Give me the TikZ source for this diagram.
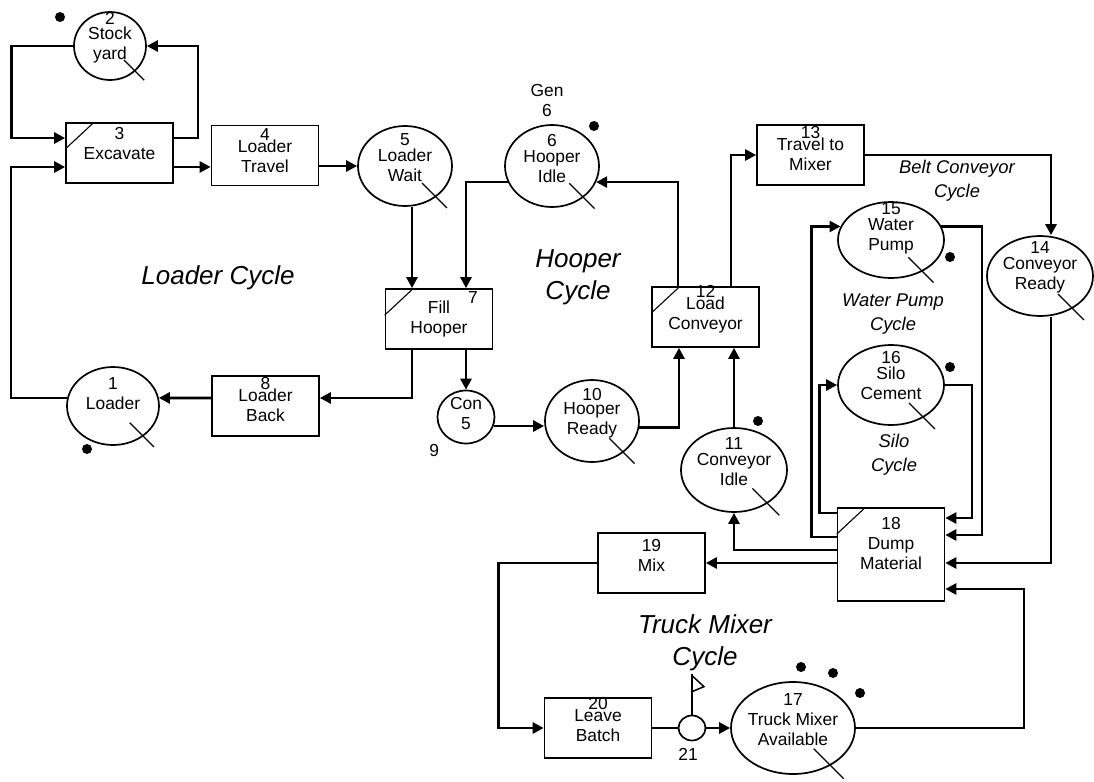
\documentclass[tikz,border=0pt]{standalone}
\usepackage{fontspec}
\setmainfont{Liberation Sans}
\usetikzlibrary{shapes.geometric,arrows.meta,calc}

\begin{document}
\begin{tikzpicture}[x=0.5pt,y=-0.5pt,
  every node/.style={font=\fontsize{8.7}{10}\selectfont, align=center},
  act/.style={draw, line width=0.85pt, rectangle, minimum width=53.5pt, minimum height=30pt},
  que/.style={draw, line width=0.85pt, ellipse, inner sep=0pt},
  flow/.style={line width=1.35pt, -{Triangle[length=5.5pt,width=5.5pt]}},
  link/.style={line width=1.35pt},
  cyc/.style={font=\fontsize{13}{16}\selectfont\itshape},
  subcyc/.style={font=\fontsize{9.2}{12}\selectfont\itshape},
  tick/.style={line width=0.55pt}]
  \useasboundingbox (0,0) rectangle (1094,782);

  \node[que, minimum width=36pt, minimum height=34pt, label={[yshift=4pt]center:{2\\[-2.5pt]Stock\\yard}}] (stockyard) at (110,46) {};
  \node[que, minimum width=46pt, minimum height=39pt, label={[yshift=6pt]center:{1\\Loader}}] (loader) at (113,406) {};
  \node[que, minimum width=47pt, minimum height=40pt, label={[yshift=4pt]center:{5\\[-2pt]Loader\\Wait}}] (lwait) at (405,166) {};
  \node[que, minimum width=47pt, minimum height=41pt, label={[yshift=3.5pt]center:{6\\[-2pt]Hooper\\Idle}}, label={[xshift=-2.5pt]above:{Gen\\6}}] (hidle) at (552,166) {};
  \node[que, minimum width=28.5pt, minimum height=26.5pt, label={[yshift=1.5pt]center:{Con\\5}}, label={below left:9}] (con) at (466,417) {};
  \node[que, minimum width=47pt, minimum height=41pt, label={[yshift=4pt]center:{10\\[-3pt]Hooper\\Ready}}] (hready) at (592,421) {};
  \node[que, minimum width=53pt, minimum height=42pt, label={[yshift=4pt]center:{11\\[-2pt]Conveyor\\Idle}}] (cidle) at (734,470) {};
  \node[que, minimum width=53pt, minimum height=40pt, label={[yshift=4.5pt]center:{14\\[-2pt]Conveyor\\Ready}}] (cready) at (1040,276) {};
  \node[que, minimum width=53pt, minimum height=38pt, label={[yshift=6pt]center:{15\\[-2pt]Water\\Pump}}] (wpump) at (891,240) {};
  \node[que, minimum width=53pt, minimum height=40pt, label={[yshift=4.5pt]center:{16\\[-2pt]Silo\\Cement}}] (silo) at (891,385) {};
  \node[que, minimum width=62pt, minimum height=46pt, label={[yshift=4pt]center:{17\\Truck Mixer\\Available}}] (truck) at (793,728) {};
  \node[que, minimum width=13.5pt, minimum height=12.5pt, label={[xshift=-2pt]below:21}] (counter) at (692,728) {};

  \node[act, label={[yshift=4.75pt]center:{3\\Excavate}}] (excavate) at (119.5,153) {};
  \node[act, label={[yshift=2.25pt]center:{4\\[-4pt]Loader\\Travel}}] (ltravel) at (265,155.5) {};
  \node[act, label={center:{Fill\\Hooper}}] (fill) at (439,319) {};
  \node (fillnum) at (473,298) {7};
  \node[act, label={[yshift=3pt]center:{8\\[-4pt]Loader\\Back}}] (lback) at (265.5,406) {};
  \node[act, label={[yshift=3.75pt]center:{12\\[-4pt]Load\\Conveyor}}] (loadconv) at (705.5,317) {};
  \node[act, label={[yshift=3.25pt]center:{13\\[-4pt]Travel to\\Mixer}}] (tmixer) at (810.5,155) {};
  \node[act, minimum height=46.5pt, label={[yshift=5.5pt]center:{18\\Dump\\Material}}] (dump) at (891,554.5) {};
  \node[act, label={[yshift=4pt]center:{19\\Mix}}] (mix) at (651.5,563) {};
  \node[act, label={[yshift=4pt]center:{20\\[-4pt]Leave\\Batch}}] (leave) at (598,728) {};

  \node[cyc] (loadercyc) at (218,278) {Loader Cycle};
  \node[cyc] (hoopercyc) at (578,277) {Hooper\\Cycle};
  \node[cyc] (truckcyc) at (705,643) {Truck Mixer\\Cycle};
  \node[subcyc] (beltcyc) at (957,181) {Belt Conveyor\\Cycle};
  \node[subcyc] (pumpcyc) at (893,314) {Water Pump\\Cycle};
  \node[subcyc] (silocyc) at (894,455) {Silo\\Cycle};

  \draw[flow] (stockyard.west) -- ++(-62,0) |- ([shift={(0,-15)}]excavate.west);
  \draw[flow] ([shift={(0,-15)}]excavate.east) -- ++(24,0) |- (stockyard.east);
  \draw[flow] (loader.170) -- ++(-56,0) |- ([shift={(0,14)}]excavate.west);
  \draw[flow] ([shift={(0,14)}]excavate.east) -- ([shift={(0,14)}]excavate.east -| ltravel.west);
  \draw[flow] (ltravel.east |- lwait.west) -- (lwait.west);
  \draw[flow] ([shift={(7,0)}]lwait.south) -- ([shift={(-27,0)}]fill.north);
  \draw[flow] (hidle.200) -| ([shift={(27,0)}]fill.north);
  \draw[flow] ([shift={(-27,0)}]fill.south) |- ([shift={(0,-8)}]lback.east);
  \draw[flow] ([shift={(0,-8)}]lback.west) -- (loader.10);
  \draw[flow] ([shift={(27,0)}]fill.south) -- (con.north);
  \draw[flow] (con.-18) -- (con.-18 -| hready.west);
  \draw[flow] (hready.-8) -| ([shift={(-26.5,0)}]loadconv.south);
  \draw[flow] (cidle.north) -- (cidle.north |- loadconv.south);
  \draw[flow] ([shift={(-27.5,0)}]loadconv.north) |- (hidle.-20);
  \draw[flow] ([shift={(25.5,0)}]loadconv.north) |- (tmixer.west);
  \draw[flow] (tmixer.east) -| ([shift={(11,0)}]cready.north);
  \draw[flow] ([shift={(11,0)}]cready.south) |- ([shift={(0,8.5)}]dump.east);
  \draw[flow] ([shift={(0,-17.5)}]dump.west) -- ++(-25,0) |- (wpump.165);
  \draw[flow] (wpump.15) -- (wpump.15 -| 982,0) |- ([shift={(0,-19.5)}]dump.east);
  \draw[flow] ([shift={(0,-41.5)}]dump.west) -- ++(-17,0) |- (silo.west);
  \draw[flow] (silo.east) -- (silo.east -| 972,0) |- ([shift={(0,-36.5)}]dump.east);
  \draw[flow] ([shift={(0,-4.5)}]dump.west) -| (cidle.south);
  \draw[flow] ([shift={(0,8.5)}]dump.west) -- (mix.east);
  \draw[flow] (mix.west) -- ++(-99,0) |- (leave.west);
  \draw[link] (leave.east) -- (counter.west);
  \draw[flow] (counter.east) -- (truck.west);
  \draw[flow] (truck.east) -- (truck.east -| 1024,0) |- ([shift={(0,34.5)}]dump.east);

  \draw[line width=0.75pt] (counter.north) -- ++(0,-41);
  \draw[line width=0.75pt] ([shift={(0,-39)}]counter.north) -- ++(12,11) -- ++(-12,5);

  \foreach \n in {stockyard,loader,lwait,hidle,hready,cidle,cready,wpump,silo,truck}
    \draw[tick] ($(\n.center)!0.55!(\n.-45)$) -- ($(\n.center)!1.35!(\n.-45)$);
  \foreach \n in {excavate,fill,loadconv,dump}
    \draw[tick] ([shift={(0,27)}]\n.north west) -- ([shift={(29,0)}]\n.north west);
  \foreach \p in {(60,17),(87,449),(594,126),(758,421),(950,257),(950,367),(801,667),(833,673),(860,693)}
    \fill \p circle (2.5pt);
\end{tikzpicture}
\end{document}
